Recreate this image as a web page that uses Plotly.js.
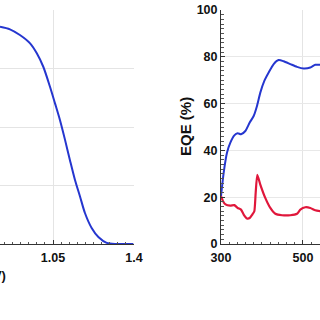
<!DOCTYPE html>
<html>
<head>
<meta charset="utf-8">
<script src="https://cdn.plot.ly/plotly-3.0.1.min.js"></script>
<style>html,body{margin:0;padding:0;background:#fff;}#chart{width:320px;height:320px;}</style>
</head>
<body>
<div id="chart"></div>
<script>
// J-V panel (left, partially visible)
const voltage = [0.821, 0.864, 0.907, 0.951, 0.980, 1.008, 1.037, 1.059, 1.080, 1.102, 1.123, 1.145, 1.167, 1.188, 1.217, 1.246, 1.282, 1.325, 1.397];
const current = [18.57, 18.35, 17.86, 17.15, 16.3, 15.15, 13.44, 12.0, 10.6, 8.9, 7.18, 5.47, 4.04, 2.65, 1.37, 0.6, 0.1, 0.0, 0.0];
const jvTicks = [1.05, 1.4];
const jvTickText = ["1.05", "1.4"];

// EQE panel (right, partially visible)
const wlBlue = [300, 306.5, 314.6, 322.8, 332.5, 340.7, 348.8, 359.4, 370, 379.7, 387.8, 395.9, 405.7, 416.3, 428.5, 440.6, 452.8, 469, 485.4, 501.6, 517.9, 530, 542];
const eqeBlue = [20.4, 30.4, 39, 43.3, 46.4, 47.3, 46.9, 48.3, 51.9, 54.7, 59, 64.7, 69.7, 73.3, 76.9, 78.6, 78.1, 76.9, 75.7, 75, 75.4, 76.6, 76.6];
const wlRed = [300, 305, 311, 322.8, 332.5, 340.7, 348.8, 355.3, 363.4, 370, 376.4, 381.3, 384.6, 388.5, 395.9, 408, 420.3, 432.5, 448.8, 469, 485.4, 493.5, 505.7, 517.9, 530, 542];
const eqeRed = [20.4, 18.3, 16.9, 16.4, 16.6, 15.4, 14.7, 12.6, 10.9, 11.1, 12.6, 14, 21.9, 29.6, 25.4, 19.7, 15.4, 12.9, 12.3, 12.3, 12.9, 14.7, 15.7, 15.4, 14.4, 14];
const eqeTicks = [300, 500, 700];

const fontFam = "Liberation Sans, Arial, sans-serif";
const blue = "#2536cf";
const red = "#e0173b";

const traces = [
  {x: voltage, y: current, xaxis: "x", yaxis: "y", mode: "lines",
   line: {color: blue, width: 2, shape: "spline", smoothing: 0.8}, hoverinfo: "skip"},
  {x: wlBlue, y: eqeBlue, xaxis: "x2", yaxis: "y2", mode: "lines",
   line: {color: blue, width: 2, shape: "spline", smoothing: 0.6}, hoverinfo: "skip"},
  {x: wlRed, y: eqeRed, xaxis: "x2", yaxis: "y2", mode: "lines",
   line: {color: red, width: 2.2, shape: "spline", smoothing: 0.5}, hoverinfo: "skip"}
];

const tickFont = {family: fontFam, size: 12.5, color: "#111", weight: "bold"};

const layout = {
  width: 320, height: 320,
  margin: {l: 0, r: 0, t: 10, b: 76},
  paper_bgcolor: "#fff", plot_bgcolor: "#fff",
  showlegend: false,
  xaxis: {
    domain: [0, 134/320], range: [0.821, 1.4],
    tickvals: jvTicks, ticktext: jvTickText,
    ticks: "inside", ticklen: 4, tickcolor: "#333", tickwidth: 1,
    minor: {dtick: 0.035, tick0: 0, ticks: "inside", ticklen: 2.5, tickcolor: "#555", showgrid: false},
    showline: true, linecolor: "#333", linewidth: 1,
    showgrid: true, gridcolor: "#e4e4e4", gridwidth: 1,
    tickfont: tickFont, zeroline: false, ticklabelstandoff: 2
  },
  yaxis: {
    domain: [0, 1], range: [0, 20], dtick: 5,
    showticklabels: false, ticks: "", showline: false,
    showgrid: true, gridcolor: "#e4e4e4", gridwidth: 1, zeroline: false
  },
  xaxis2: {
    domain: [221/320, 1], range: [300, 541.5], anchor: "y2",
    tickvals: eqeTicks,
    ticks: "inside", ticklen: 4, tickcolor: "#333", tickwidth: 1,
    minor: {dtick: 20, tick0: 300, ticks: "inside", ticklen: 2.5, tickcolor: "#555", showgrid: false},
    showline: true, linecolor: "#333", linewidth: 1,
    showgrid: true, gridcolor: "#e4e4e4", gridwidth: 1,
    tickfont: tickFont, zeroline: false, ticklabelstandoff: 2
  },
  yaxis2: {
    domain: [0, 1], range: [0, 100], dtick: 20, anchor: "x2",
    ticks: "inside", ticklen: 4, tickcolor: "#333", tickwidth: 1,
    minor: {dtick: 2, ticks: "inside", ticklen: 2.5, tickcolor: "#555", showgrid: false},
    showline: true, linecolor: "#333", linewidth: 1,
    showgrid: true, gridcolor: "#e8e8e8", gridwidth: 1,
    tickfont: tickFont, zeroline: false
  },
  annotations: [
    {text: "Voltage (V)", xref: "paper", yref: "paper", x: 8/320, y: -31/234,
     xanchor: "right", yanchor: "middle", showarrow: false,
     font: {family: fontFam, size: 13, color: "#111", weight: "bold"}},
    {text: "EQE (%)", xref: "paper", yref: "paper", x: 185/320, y: 0.5,
     xanchor: "center", yanchor: "middle", textangle: -90, showarrow: false,
     font: {family: fontFam, size: 15, color: "#111", weight: "bold"}}
  ]
};

Plotly.newPlot("chart", traces, layout, {staticPlot: true, displayModeBar: false});
</script>
</body>
</html>
